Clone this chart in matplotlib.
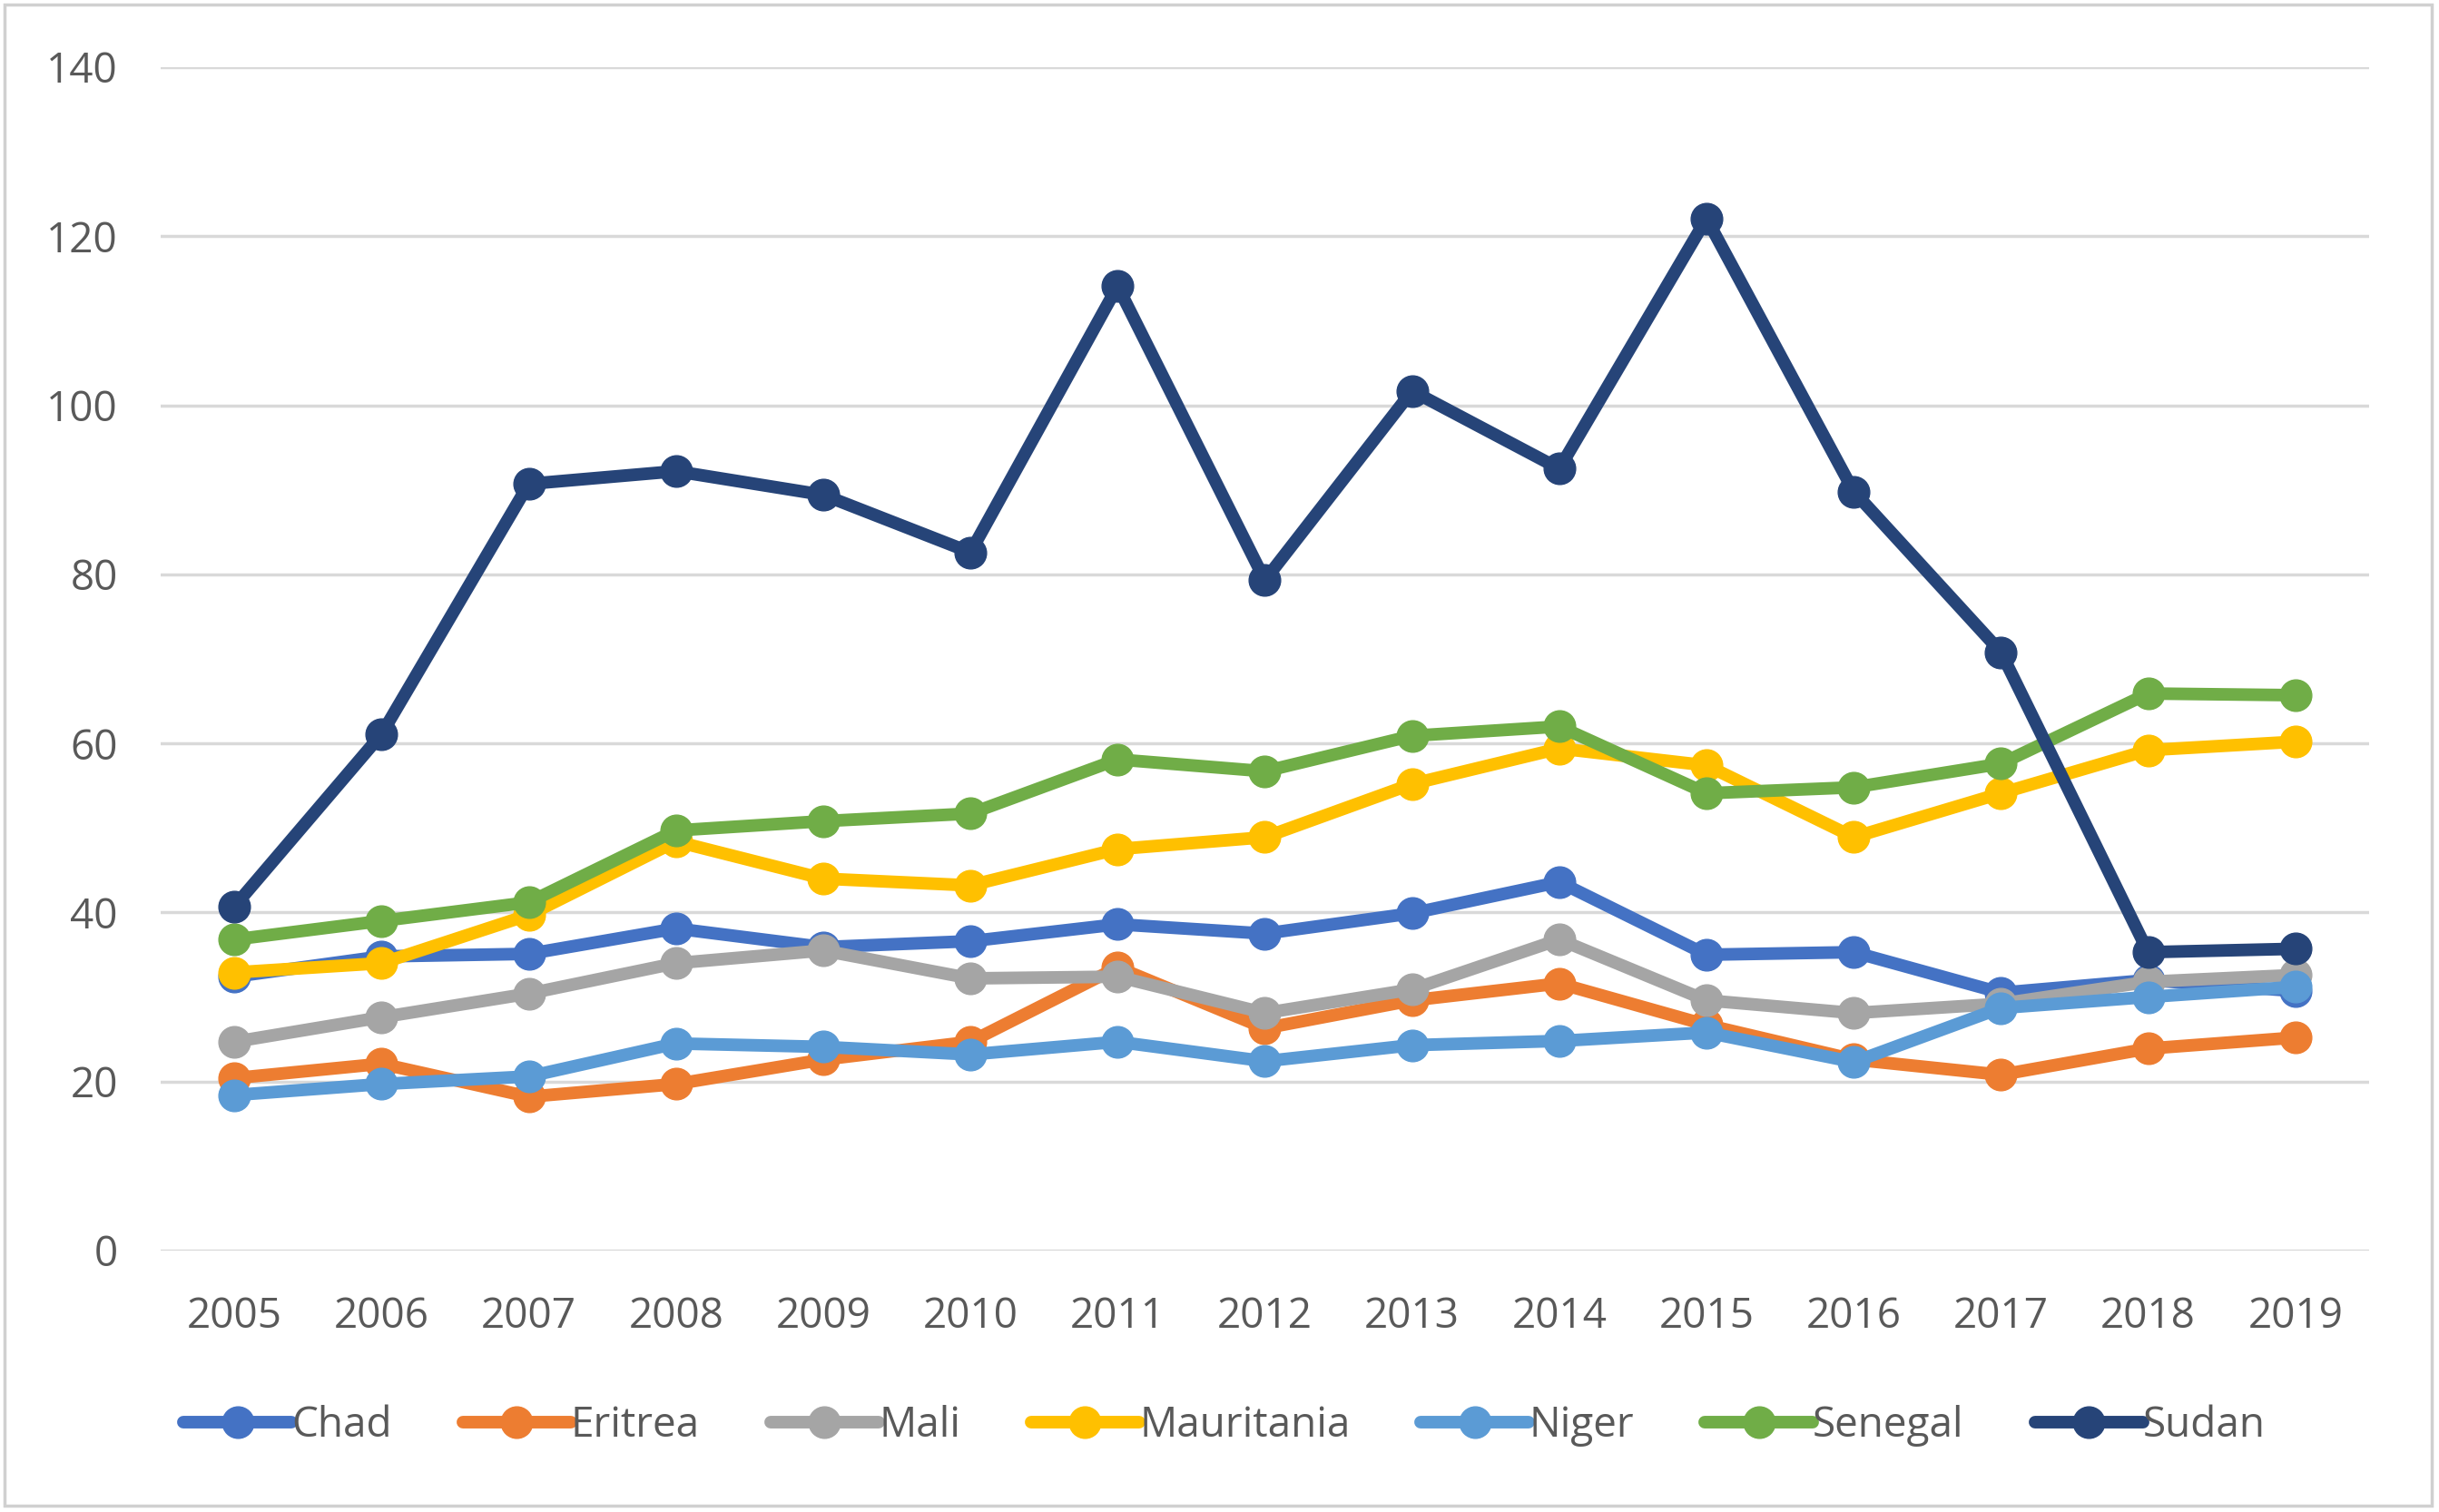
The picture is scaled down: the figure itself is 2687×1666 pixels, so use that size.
import matplotlib.pyplot as plt
from matplotlib.patches import Rectangle

years = [2005, 2006, 2007, 2008, 2009, 2010, 2011, 2012, 2013, 2014, 2015, 2016, 2017, 2018, 2019]

chad = [32.4, 34.8, 35.1, 38.1, 35.9, 36.6, 38.6, 37.5, 39.9, 43.6, 35.0, 35.3, 30.5, 32.0, 30.7]
eritrea = [20.4, 22.1, 18.2, 19.7, 22.6, 24.7, 33.5, 26.3, 29.6, 31.6, 26.7, 22.6, 20.8, 23.9, 25.2]
mali = [24.7, 27.6, 30.4, 34.0, 35.5, 32.2, 32.4, 28.1, 30.9, 36.8, 29.6, 28.1, 29.2, 31.8, 32.6]
mauritania = [32.9, 34.0, 39.7, 48.4, 44.0, 43.2, 47.5, 48.9, 55.2, 59.4, 57.4, 48.9, 54.1, 59.2, 60.2]
niger = [18.4, 19.7, 20.6, 24.5, 24.1, 23.2, 24.7, 22.4, 24.3, 24.8, 25.8, 22.3, 28.7, 30.0, 31.2]
senegal = [36.8, 39.0, 41.2, 49.7, 50.8, 51.7, 58.1, 56.7, 60.9, 62.0, 54.1, 54.8, 57.6, 65.9, 65.7]
sudan = [40.7, 61.1, 90.7, 92.2, 89.4, 82.6, 114.1, 79.3, 101.7, 92.5, 122.1, 89.8, 70.8, 35.3, 35.7]

names = ['Chad', 'Eritrea', 'Mali', 'Mauritania', 'Niger', 'Senegal', 'Sudan']
colors = ['#4472C4', '#ED7D31', '#A5A5A5', '#FFC000', '#5B9BD5', '#70AD47', '#264478']
series = [chad, eritrea, mali, mauritania, niger, senegal, sudan]

plt.rcParams['font.family'] = ['Open Sans', 'DejaVu Sans']

fig = plt.figure(figsize=(26.87, 16.66), dpi=100)
ax = fig.add_axes([0.0659, 0.1729, 0.9054, 0.7827])

x = list(range(len(years)))
for vals, name, c in zip(series, names, colors):
    ax.plot(x, vals, color=c, lw=10, marker='o', ms=25, label=name,
            solid_capstyle='round', solid_joinstyle='round')

ax.set_xlim(-0.5, len(years) - 0.5)
ax.set_ylim(0, 140)
ax.set_yticks(range(0, 141, 20))
ax.set_xticks(x)
ax.set_xticklabels([str(y) for y in years])
ax.grid(axis='y', color='#D9D9D9', lw=2.5)
ax.set_axisbelow(True)
for s in ax.spines.values():
    s.set_visible(False)
ax.tick_params(axis='both', length=0, labelsize=33, labelcolor='#595959')
ax.tick_params(axis='y', pad=34)
ax.tick_params(axis='x', pad=36)

leg = fig.legend(loc='center', bbox_to_anchor=(0.502, 0.057), ncol=7, frameon=False,
                 fontsize=33, handlelength=2.6, handletextpad=0.0, columnspacing=1.7)
for t in leg.get_texts():
    t.set_color('#595959')

fig.patches.append(Rectangle((0.002, 0.004), 0.995, 0.993, transform=fig.transFigure,
                             fill=False, edgecolor='#D0D0D0', lw=2.5))

fig.savefig('out.png', dpi=100)
